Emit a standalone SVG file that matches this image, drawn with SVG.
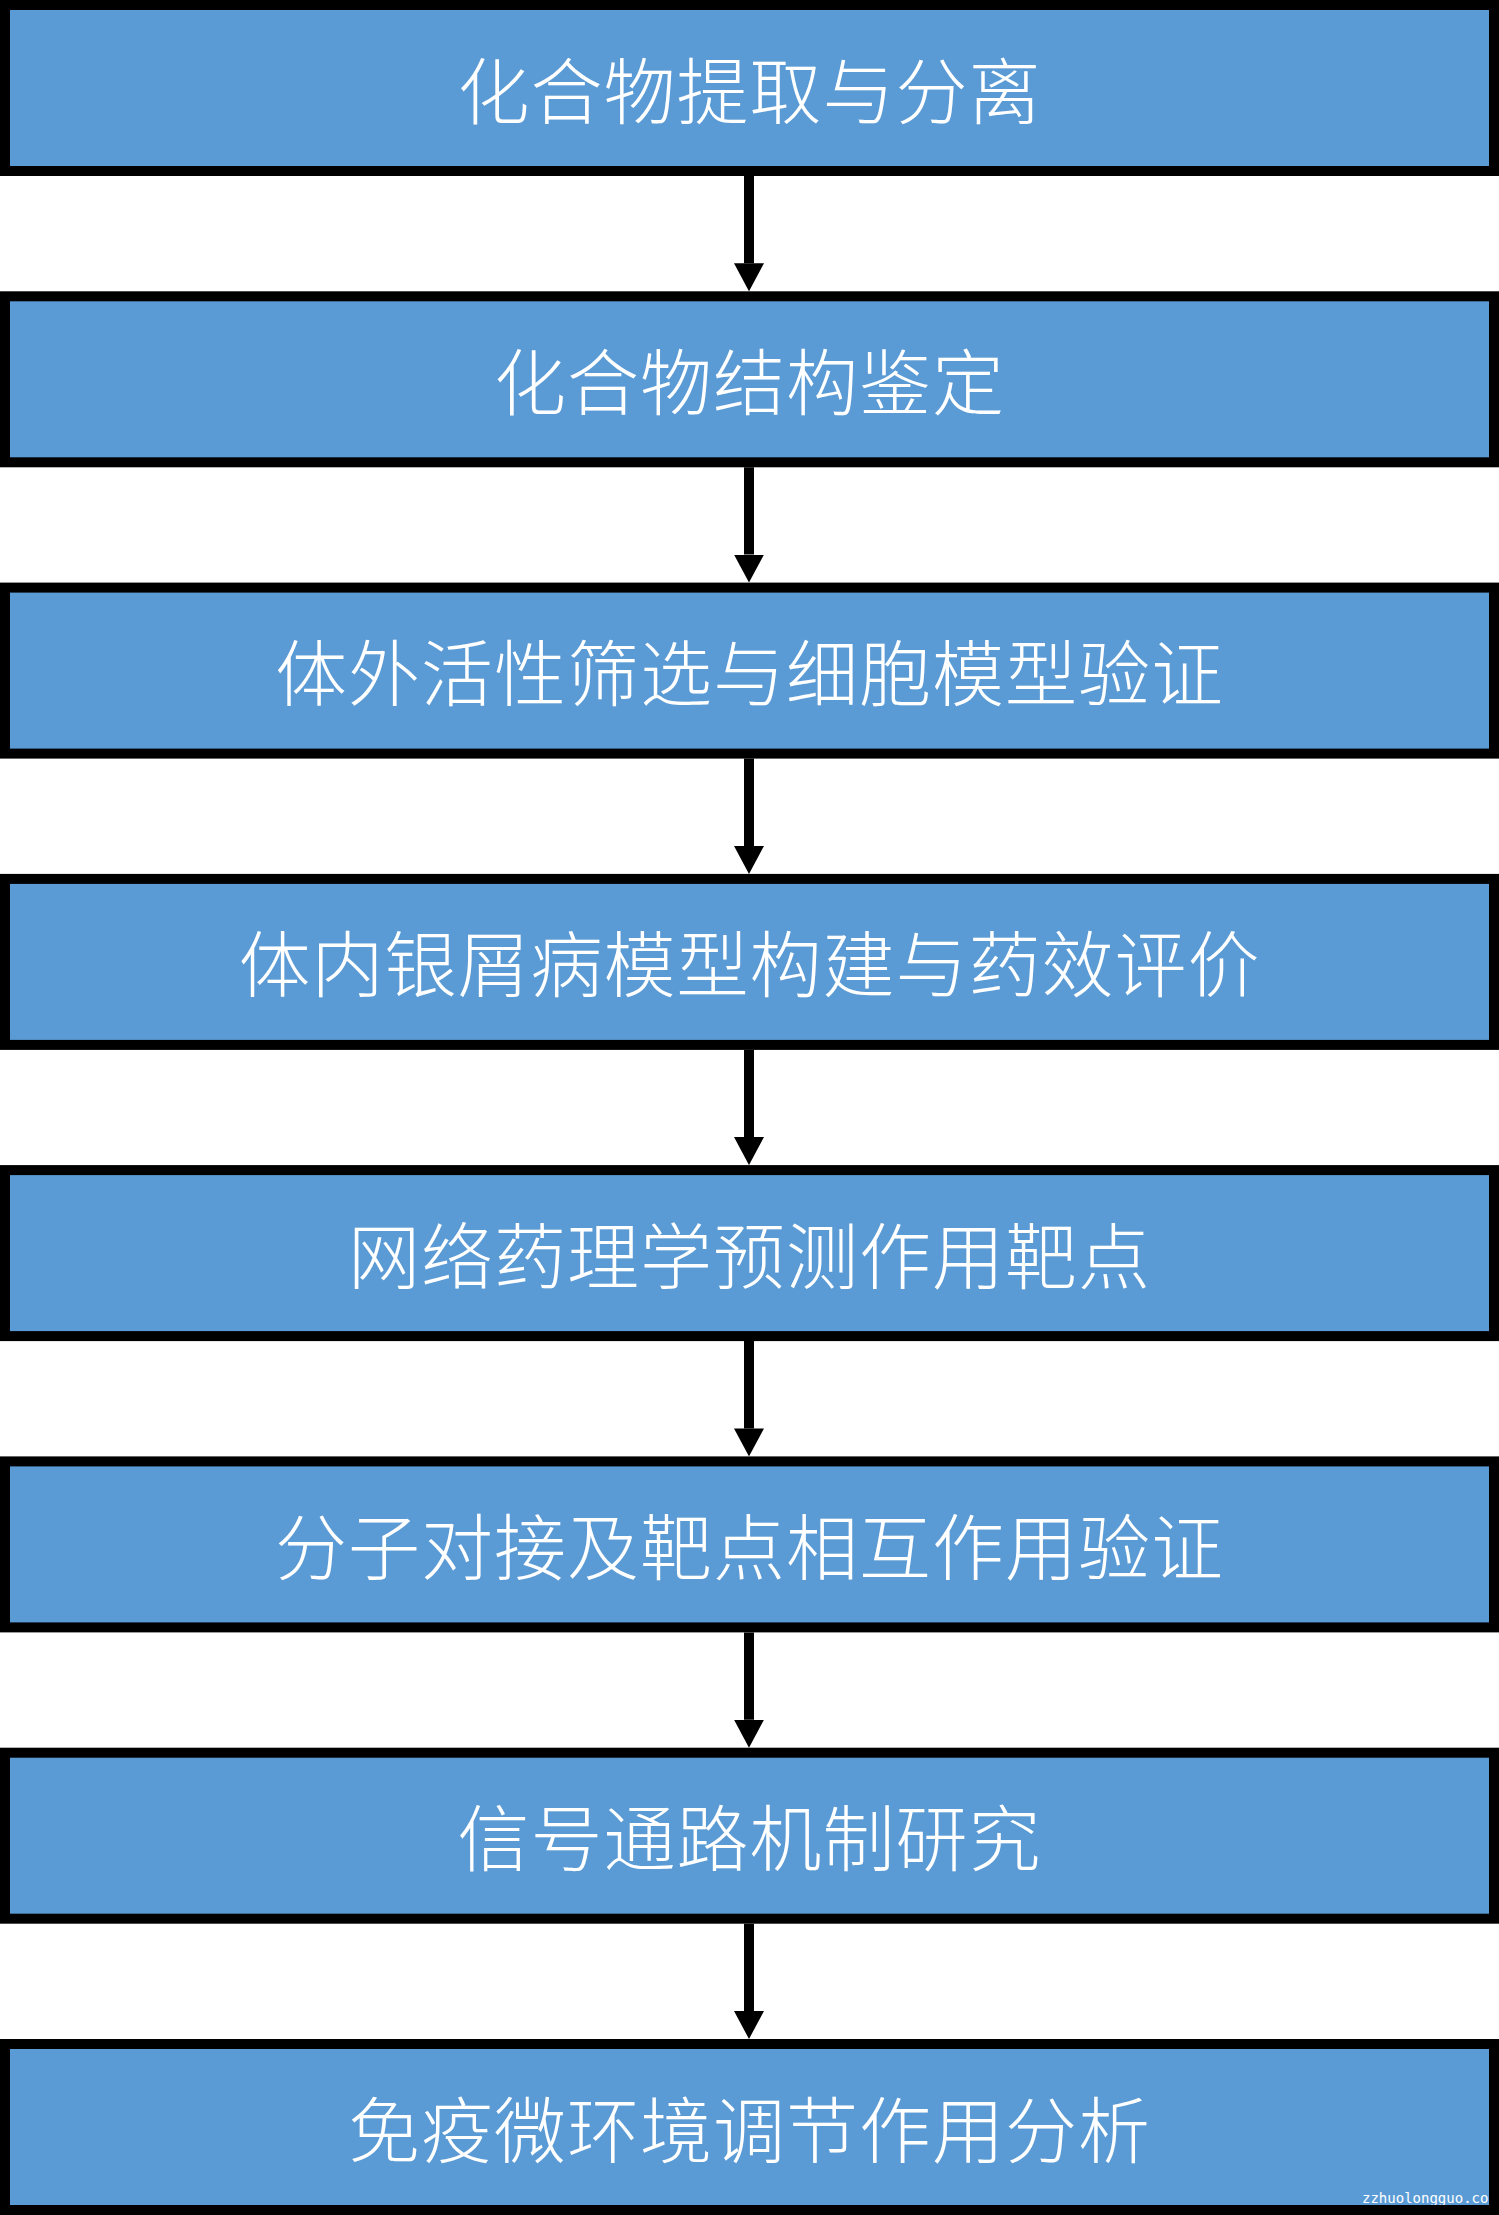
<svg xmlns="http://www.w3.org/2000/svg" width="1499" height="2215" viewBox="0 0 1499 2215">
<style>
.box{fill:#5B9BD5;stroke:#000;stroke-width:10}
.lbl{fill:#fff;font-family:"Noto Sans CJK SC","Noto Sans",sans-serif;font-size:72px;font-weight:300;text-anchor:middle;dominant-baseline:central;letter-spacing:1px}
.conn{stroke:#000;stroke-width:10;fill:none;marker-end:url(#ah)}
.wm{fill:#fff;font-family:"DejaVu Sans Mono","Liberation Mono",monospace;font-size:14px}
</style>
<defs>
<marker id="ah" markerUnits="userSpaceOnUse" markerWidth="28" markerHeight="30" viewBox="0 0 28 30" refX="0" refY="15" orient="auto">
<path d="M0,0 L28,15 L0,30 Z" fill="#000"/>
</marker>
<clipPath id="inner"><rect x="10" y="2049" width="1479" height="156"/></clipPath>
</defs>
<g id="connectors">
<path class="conn" d="M749,176 V263.3"/>
<path class="conn" d="M749,467.3 V554.6"/>
<path class="conn" d="M749,758.6 V845.9"/>
<path class="conn" d="M749,1049.9 V1137.1"/>
<path class="conn" d="M749,1341.1 V1428.4"/>
<path class="conn" d="M749,1632.4 V1719.7"/>
<path class="conn" d="M749,1923.7 V2011"/>
</g>
<g id="n1"><rect class="box" x="5" y="5" width="1489" height="166"/><text class="lbl" x="749.5" y="86">化合物提取与分离</text></g>
<g id="n2"><rect class="box" x="5" y="296.3" width="1489" height="166"/><text class="lbl" x="749.5" y="377.3">化合物结构鉴定</text></g>
<g id="n3"><rect class="box" x="5" y="587.6" width="1489" height="166"/><text class="lbl" x="749.5" y="668.6">体外活性筛选与细胞模型验证</text></g>
<g id="n4"><rect class="box" x="5" y="878.9" width="1489" height="166"/><text class="lbl" x="749.5" y="959.9">体内银屑病模型构建与药效评价</text></g>
<g id="n5"><rect class="box" x="5" y="1170.1" width="1489" height="166"/><text class="lbl" x="749.5" y="1251.1">网络药理学预测作用靶点</text></g>
<g id="n6"><rect class="box" x="5" y="1461.4" width="1489" height="166"/><text class="lbl" x="749.5" y="1542.4">分子对接及靶点相互作用验证</text></g>
<g id="n7"><rect class="box" x="5" y="1752.7" width="1489" height="166"/><text class="lbl" x="749.5" y="1833.7">信号通路机制研究</text></g>
<g id="n8"><rect class="box" x="5" y="2044" width="1489" height="166"/><text class="lbl" x="749.5" y="2125">免疫微环境调节作用分析</text>
<text class="wm" x="1362" y="2203" clip-path="url(#inner)">zzhuolongguo.com</text></g>
</svg>
